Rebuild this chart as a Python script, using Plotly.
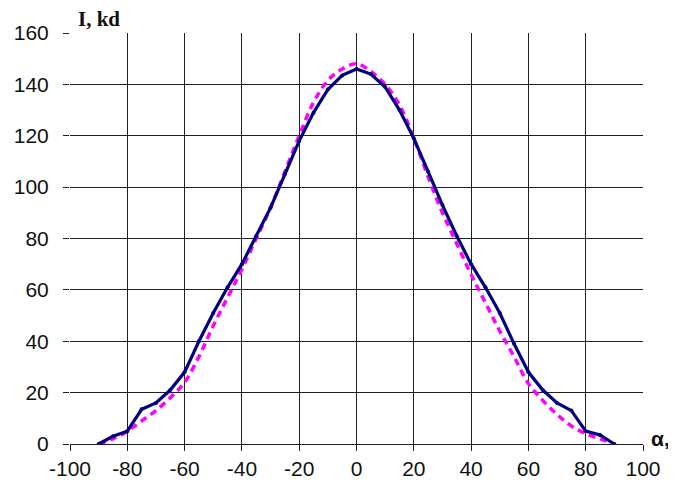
import plotly.graph_objects as go

alpha = list(range(-90, 95, 5))

# measured luminous intensity (solid) and calculated (dashed)
i_measured = [0, 3, 5, 13.5, 16, 21, 28, 40, 51, 61, 70, 81, 92, 105, 118, 129,
              138, 143.5, 146, 144, 139, 130, 119, 106, 93, 81, 70, 61, 51, 39,
              28, 21, 16, 13, 5, 3.5, 0]
i_calc = [0, 2, 5, 9, 13, 18, 24, 34, 46, 57, 68, 80, 92, 106, 120, 133,
          141.5, 146, 148, 145, 140, 132, 119, 104, 90, 78, 66, 55, 44, 34,
          23.5, 17, 11.5, 7, 4, 2, 0]

x_ticks = list(range(-100, 101, 20))
x_labels = [str(v) for v in x_ticks]
y_ticks = list(range(0, 161, 20))
y_labels = [str(v) for v in y_ticks]

fig = go.Figure()
fig.add_trace(go.Scatter(x=alpha, y=i_calc, mode="lines",
                         line=dict(color="#ff00ff", width=3.5, dash="7px,5px"),
                         line_shape="spline"))
fig.add_trace(go.Scatter(x=alpha, y=i_measured, mode="lines+markers",
                         line=dict(color="#000080", width=3.2),
                         marker=dict(size=4, color="#000080")))

axis_font = dict(family="Liberation Sans, Arial", size=21, color="#111")
fig.update_xaxes(range=[-100, 100], tickvals=x_ticks, ticktext=x_labels,
                 showgrid=True, gridcolor="#222", gridwidth=1, zeroline=False,
                 showline=True, linecolor="#222", ticks="outside",
                 ticklen=6, tickcolor="#222", tickfont=axis_font,
                 automargin=False)
fig.update_yaxes(range=[0, 160], tickvals=y_ticks, ticktext=y_labels,
                 showgrid=True, gridcolor="#222", gridwidth=1, zeroline=False,
                 showline=False, ticks="outside", ticklen=6,
                 tickcolor="#222", tickfont=axis_font, ticklabelstandoff=10,
                 automargin=False)

fig.add_annotation(text="<b>I, kd</b>", xref="paper", yref="paper",
                   x=0.0, y=1.0, xanchor="left", yanchor="bottom",
                   xshift=6, yshift=0, showarrow=False,
                   font=dict(family="Liberation Serif, Times New Roman",
                             size=21, color="#111"))
fig.add_annotation(text="<b>α,</b>", xref="paper", yref="paper",
                   x=1.0, y=0.0, xanchor="left", yanchor="middle",
                   xshift=6, yshift=6, showarrow=False,
                   font=dict(family="Liberation Sans, Arial", size=21,
                             color="#111"))

fig.update_layout(width=676, height=490, showlegend=False,
                  plot_bgcolor="white", paper_bgcolor="white",
                  margin=dict(l=62, r=41, t=25, b=54))

fig.write_html("out.html")
